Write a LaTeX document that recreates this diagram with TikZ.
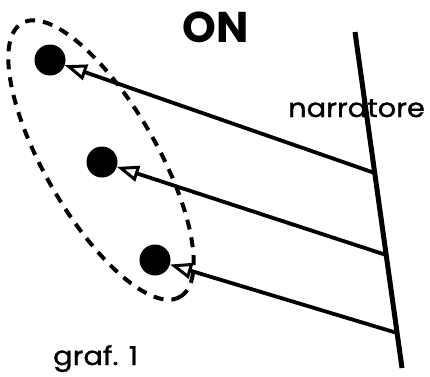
\documentclass[tikz,border=0pt]{standalone}
\usepackage{fontspec}
\setmainfont{Poppins}
\newfontfamily\widefont[FakeStretch=1.11, FakeBold=1.2]{Poppins}
\usetikzlibrary{arrows.meta}
\tikzset{
  dot/.style={circle, fill=black, draw=none, minimum size=31pt, inner sep=0pt},
  ray/.style={line width=3.8pt, -{Triangle[open, length=22pt, width=16pt, line width=3pt]}},
  narr/.style={line width=5pt},
  group/.style={line width=4pt, dash pattern=on 10pt off 8pt},
  lbl/.style={inner sep=0pt, anchor=base west}
}
\begin{document}
\begin{tikzpicture}[x=1pt,y=1pt]
\useasboundingbox (0,0) rectangle (430,376);
% dashed ellipse
\draw[group] (101,216) ellipse [x radius=158, y radius=56, rotate=-60];
% narrator line
\coordinate (ntop) at (355,344);
\coordinate (nbot) at (402,8);
\draw[narr] (ntop) -- (nbot);
\coordinate (n1) at (374.7,203);
\coordinate (n2) at (386.2,121);
\coordinate (n3) at (397.1,43);
% dots
\node[dot] (c1) at (50,316) {};
\node[dot] (c2) at (102,214) {};
\node[dot] (c3) at (155,116) {};
% rays
\draw[ray] (n1) -- (c1);
\draw[ray] (n2) -- (c2);
\draw[ray] (n3) -- (c3);
% texts
\node[lbl, font={\fontsize{43}{43}\selectfont\bfseries}] (on) at (182,334) {ON};
\node[lbl, font={\widefont\fontsize{26}{26}\selectfont}] (narr) at (288,259) {narratore};
\node[lbl, font={\widefont\fontsize{26}{26}\selectfont}] (graf) at (53,11) {graf. 1};
\end{tikzpicture}
\end{document}
